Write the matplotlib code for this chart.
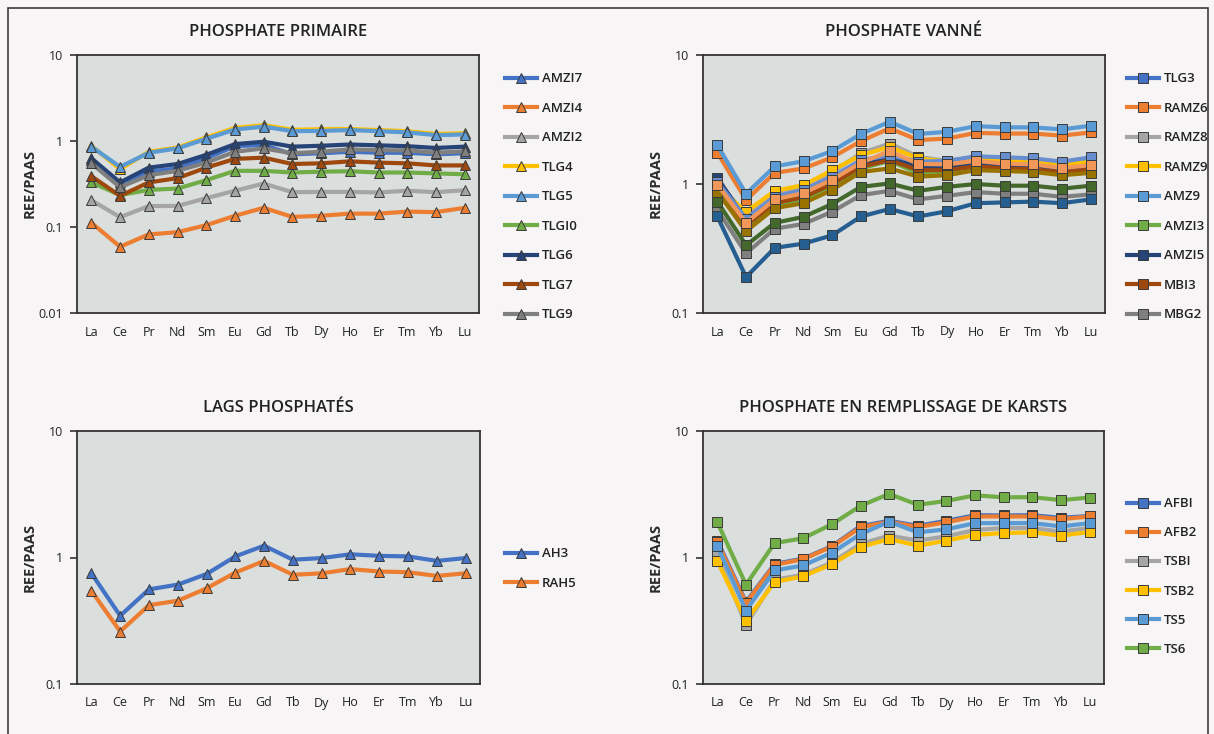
import matplotlib
matplotlib.use("Agg")
import matplotlib.pyplot as plt
from matplotlib.ticker import FixedLocator, NullLocator
from matplotlib.patches import Rectangle

plt.rcParams['font.family'] = ['Open Sans', 'DejaVu Sans']

elements = ["La", "Ce", "Pr", "Nd", "Sm", "Eu", "Gd", "Tb", "Dy", "Ho", "Er", "Tm", "Yb", "Lu"]

# --- Phosphate primaire
primaire_names = ["AMZI7", "AMZI4", "AMZI2", "TLG4", "TLG5", "TLGI0", "TLG6", "TLG7", "TLG9"]
amz17 = [0.60, 0.31, 0.44, 0.48, 0.63, 0.87, 0.90, 0.70, 0.72, 0.75, 0.73, 0.73, 0.70, 0.72]
amz14 = [0.112, 0.059, 0.082, 0.087, 0.105, 0.135, 0.167, 0.131, 0.135, 0.143, 0.143, 0.151, 0.149, 0.167]
amz12 = [0.205, 0.13, 0.175, 0.176, 0.216, 0.264, 0.32, 0.254, 0.256, 0.256, 0.252, 0.264, 0.254, 0.268]
tlg4 = [0.88, 0.47, 0.75, 0.84, 1.10, 1.42, 1.53, 1.35, 1.37, 1.38, 1.34, 1.30, 1.21, 1.23]
tlg5 = [0.86, 0.50, 0.73, 0.82, 1.06, 1.36, 1.47, 1.30, 1.31, 1.34, 1.30, 1.26, 1.17, 1.19]
tlg10 = [0.33, 0.235, 0.27, 0.28, 0.35, 0.45, 0.45, 0.43, 0.44, 0.445, 0.43, 0.43, 0.42, 0.41]
tlg6 = [0.63, 0.33, 0.49, 0.54, 0.69, 0.92, 0.98, 0.86, 0.88, 0.91, 0.89, 0.87, 0.83, 0.86]
tlg7 = [0.39, 0.23, 0.33, 0.37, 0.49, 0.62, 0.64, 0.54, 0.55, 0.58, 0.56, 0.55, 0.52, 0.52]
tlg9 = [0.55, 0.29, 0.40, 0.45, 0.56, 0.75, 0.82, 0.72, 0.75, 0.80, 0.78, 0.78, 0.73, 0.76]
primaire_values = [amz17, amz14, amz12, tlg4, tlg5, tlg10, tlg6, tlg7, tlg9]

# --- Phosphate vanné (legend shows the first nine series only)
vanne_names = ["TLG3", "RAMZ6", "RAMZ8", "RAMZ9", "AMZ9", "AMZI3", "AMZI5", "MBI3", "MBG2"]
tlg3 = [1.07, 0.556, 0.74, 0.84, 1.07, 1.43, 1.62, 1.37, 1.44, 1.58, 1.53, 1.51, 1.43, 1.53]
ramz6 = [1.75, 0.75, 1.22, 1.32, 1.61, 2.15, 2.70, 2.19, 2.25, 2.49, 2.46, 2.46, 2.37, 2.51]
ramz8 = [1.01, 0.59, 0.84, 0.92, 1.24, 1.73, 2.06, 1.62, 1.51, 1.62, 1.58, 1.55, 1.44, 1.53]
ramz9 = [0.95, 0.61, 0.885, 0.98, 1.28, 1.67, 1.94, 1.58, 1.49, 1.61, 1.53, 1.49, 1.40, 1.49]
amz9 = [2.0, 0.84, 1.37, 1.50, 1.80, 2.44, 3.04, 2.44, 2.54, 2.81, 2.75, 2.75, 2.65, 2.83]
amzi3 = [0.92, 0.47, 0.685, 0.76, 0.96, 1.32, 1.51, 1.21, 1.22, 1.32, 1.28, 1.26, 1.21, 1.26]
amzi5 = [1.12, 0.52, 0.73, 0.82, 1.04, 1.40, 1.58, 1.36, 1.33, 1.44, 1.37, 1.36, 1.28, 1.36]
mbi3 = [1.01, 0.48, 0.71, 0.79, 1.00, 1.36, 1.53, 1.28, 1.28, 1.37, 1.32, 1.30, 1.23, 1.30]
mbg2 = [0.63, 0.29, 0.45, 0.49, 0.61, 0.82, 0.885, 0.76, 0.81, 0.865, 0.84, 0.84, 0.795, 0.83]
extra10 = [0.87, 0.43, 0.65, 0.71, 0.90, 1.24, 1.32, 1.14, 1.17, 1.28, 1.26, 1.24, 1.17, 1.22]
extra11 = [0.56, 0.19, 0.32, 0.345, 0.40, 0.56, 0.64, 0.56, 0.615, 0.71, 0.72, 0.73, 0.71, 0.76]
extra12 = [0.73, 0.335, 0.50, 0.556, 0.70, 0.95, 1.01, 0.885, 0.95, 1.00, 0.97, 0.97, 0.92, 0.97]
extra13 = [1.04, 0.54, 0.795, 0.90, 1.14, 1.53, 1.67, 1.49, 1.51, 1.64, 1.61, 1.58, 1.49, 1.61]
extra14 = [0.99, 0.50, 0.76, 0.85, 1.08, 1.46, 1.80, 1.43, 1.42, 1.51, 1.44, 1.42, 1.33, 1.40]
vanne_values = [tlg3, ramz6, ramz8, ramz9, amz9, amzi3, amzi5, mbi3, mbg2,
                extra10, extra11, extra12, extra13, extra14]

# --- Lags phosphatés
lags_names = ["AH3", "RAH5"]
ah3 = [0.75, 0.346, 0.56, 0.61, 0.74, 1.02, 1.24, 0.96, 0.99, 1.06, 1.03, 1.02, 0.94, 0.99]
rah5 = [0.545, 0.26, 0.42, 0.455, 0.57, 0.76, 0.94, 0.73, 0.75, 0.81, 0.775, 0.765, 0.715, 0.75]
lags_values = [ah3, rah5]

# --- Phosphate en remplissage de karsts
karst_names = ["AFBI", "AFB2", "TSBI", "TSB2", "TS5", "TS6"]
afb1 = [1.36, 0.445, 0.89, 0.98, 1.23, 1.77, 1.95, 1.78, 1.95, 2.16, 2.15, 2.16, 2.06, 2.13]
afb2 = [1.32, 0.436, 0.875, 0.97, 1.22, 1.73, 1.92, 1.74, 1.90, 2.11, 2.11, 2.11, 2.01, 2.11]
tsb1 = [1.05, 0.294, 0.667, 0.73, 0.914, 1.28, 1.49, 1.36, 1.47, 1.65, 1.71, 1.71, 1.60, 1.71]
tsb2 = [0.94, 0.316, 0.64, 0.71, 0.886, 1.21, 1.40, 1.24, 1.36, 1.51, 1.56, 1.58, 1.49, 1.59]
ts5 = [1.24, 0.38, 0.79, 0.865, 1.09, 1.53, 1.92, 1.58, 1.67, 1.87, 1.87, 1.87, 1.76, 1.87]
ts6 = [1.90, 0.61, 1.30, 1.42, 1.83, 2.56, 3.18, 2.61, 2.80, 3.10, 2.99, 3.00, 2.84, 2.98]
karst_values = [afb1, afb2, tsb1, tsb2, ts5, ts6]

palette = ["#4472C4", "#ED7D31", "#A5A5A5", "#FFC000", "#5B9BD5", "#70AD47",
           "#264478", "#9E480E", "#7F7F7F", "#997300", "#255E91", "#43682B",
           "#698ED0", "#F1975A"]

W, H = 1214, 734
fig = plt.figure(figsize=(W / 100, H / 100), dpi=100, facecolor="#F7F5F6")
fig.patches.append(Rectangle((8 / W, -0.01), 1200 / W, 1 - 8 / H + 0.01,
                             transform=fig.transFigure, fill=False,
                             edgecolor="#3a3a3a", lw=1.2))


def px_axes(x0, y0, x1, y1):
    return fig.add_axes([x0 / W, 1 - y1 / H, (x1 - x0) / W, (y1 - y0) / H])


def panel(ax, title, names, values, marker, ymin, ymax, ticks, ticklabels, leg_xy, leg_pitch):
    for i, vals in enumerate(values):
        label = names[i] if i < len(names) else "_nolegend_"
        ax.plot(range(len(elements)), vals, color=palette[i], lw=3,
                marker=marker, ms=7, mec="#3a3a3a", mew=0.7, mfc=palette[i],
                label=label, solid_joinstyle="round")
    ax.set_yscale("log")
    ax.set_ylim(ymin, ymax)
    ax.set_xlim(-0.5, len(elements) - 0.5)
    ax.set_facecolor("#DADEDD")
    ax.yaxis.set_major_locator(FixedLocator(ticks))
    ax.set_yticklabels(ticklabels)
    ax.yaxis.set_minor_locator(NullLocator())
    ax.set_xticks(range(len(elements)))
    ax.set_xticklabels(elements, fontweight="medium")
    ax.tick_params(axis="x", length=0, pad=9, labelsize=9, labelcolor="#222222")
    ax.tick_params(axis="y", length=5, width=1.2, pad=5, labelsize=9,
                   labelcolor="#222222", color="#333333")
    for s in ax.spines.values():
        s.set_color("#333333")
        s.set_linewidth(1.3)
    ax.set_title(title, fontsize=12, fontweight="semibold", color="#222222", pad=14)
    ax.set_ylabel("REE/PAAS", fontsize=10.5, fontweight="bold", color="#2b2b2b")
    ax.yaxis.set_label_coords(-0.10, 0.5)
    leg = ax.legend(loc="upper left", bbox_to_anchor=(leg_xy[0] / W, 1 - leg_xy[1] / H),
                    bbox_transform=fig.transFigure, frameon=False, fontsize=9.5,
                    handlelength=2.4, handletextpad=0.4, numpoints=1,
                    labelspacing=leg_pitch, labelcolor="#222222", borderaxespad=0)
    for t in leg.get_texts():
        t.set_fontweight("semibold")


ax1 = px_axes(77, 55, 479, 313)
panel(ax1, "PHOSPHATE PRIMAIRE", primaire_names, primaire_values, "^", 0.01, 10,
      [0.01, 0.1, 1, 10], ["0.01", "0.1", "1", "10"], (500, 67), 1.25)

ax2 = px_axes(703, 55, 1105, 313)
panel(ax2, "PHOSPHATE VANNÉ", vanne_names, vanne_values, "s", 0.1, 10,
      [0.1, 1, 10], ["0.1", "1", "10"], (1122, 67), 1.25)

ax3 = px_axes(77, 431, 480, 684)
panel(ax3, "LAGS PHOSPHATÉS", lags_names, lags_values, "^", 0.1, 10,
      [0.1, 1, 10], ["0.1", "1", "10"], (500, 542), 1.25)

ax4 = px_axes(703, 431, 1104, 684)
panel(ax4, "PHOSPHATE EN REMPLISSAGE DE KARSTS", karst_names, karst_values, "s", 0.1, 10,
      [0.1, 1, 10], ["0.1", "1", "10"], (1122, 492), 1.22)

fig.savefig("out.png", dpi=100, facecolor=fig.get_facecolor())
